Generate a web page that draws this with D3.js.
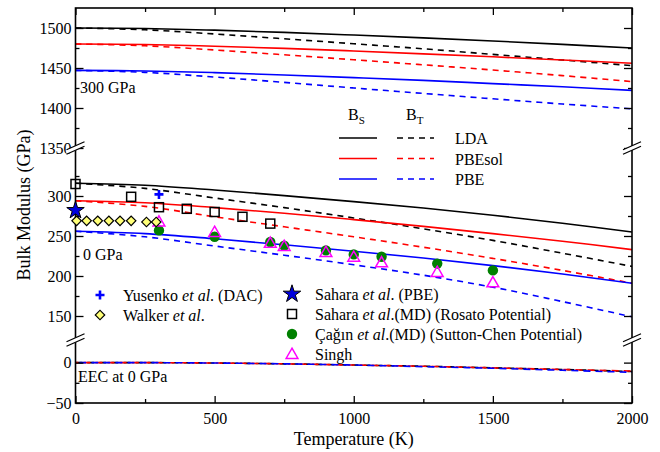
<!DOCTYPE html>
<html>
<head>
<meta charset="utf-8">
<title>Bulk modulus vs temperature</title>
<script src="https://cdnjs.cloudflare.com/ajax/libs/d3/7.8.5/d3.min.js"></script>
<style>
    body { margin: 0; background: #fff; }
    svg text { font-family: "Liberation Serif", "Times New Roman", serif; fill: #000; }
    .axis path { display: none; }
    .axis line { stroke: #000; stroke-width: 1.3; }
</style>
</head>
<body>
<svg id="chart" width="660" height="452"></svg>
<script>
// temperature grid (K) for the calculated curves
var temps = [0, 250, 500, 750, 1000, 1250, 1500, 1750, 2000];

// 300 GPa (top panel)
var ldaBs300    = [1500, 1499.3, 1497.3, 1494.5, 1491.2, 1487.7, 1483.8, 1479.5, 1475];
var ldaBt300    = [1500, 1497.8, 1492.5, 1486.5, 1480.3, 1474, 1467, 1460, 1453];
var pbesolBs300 = [1480, 1479.3, 1477.2, 1474.5, 1471.3, 1467.7, 1464, 1460, 1456];
var pbesolBt300 = [1480, 1477.8, 1472.5, 1466.5, 1460.3, 1454, 1447.5, 1440.5, 1433];
var pbeBs300    = [1447, 1446.3, 1444.2, 1441.3, 1438, 1434.5, 1430.5, 1426.5, 1422];
var pbeBt300    = [1447, 1444.5, 1438.7, 1432, 1425, 1418.2, 1411.5, 1405, 1399];

// 0 GPa (middle panel)
var ldaBs0    = [316, 313.5, 307.5, 300.5, 293, 285, 276, 266, 255];
var ldaBt0    = [316, 309.5, 297.5, 285.5, 272.5, 259, 244.5, 228.5, 212];
var pbesolBs0 = [294, 291.5, 285.5, 278.5, 270.5, 262, 253, 243.5, 233];
var pbesolBt0 = [294, 287, 274, 261.5, 249, 236, 222, 207, 191];
var pbeBs0    = [256, 253, 246.5, 239, 231, 222.5, 213, 202.5, 191];
var pbeBt0    = [256, 249, 237.5, 226, 214, 201, 186, 168, 149];

// EEC at 0 GPa (bottom panel)
var eecLda    = [0, 0, -0.5, -1.5, -3, -4.5, -6.5, -8.5, -11];
var eecPbesol = [0, 0, -0.5, -1.5, -3, -4.5, -6.5, -8.5, -10.5];
var eecPbe    = [0, 0, -0.5, -1.5, -3, -5, -7, -9.5, -12];

// reference data
var yusenkoT = [300], yusenkoB = [302];
var walkerT = [4, 40, 80, 120, 160, 200, 255, 290];
var walkerB = [269, 269, 269, 269, 269, 269, 267.5, 267.5];
var saharaPbeT = [0], saharaPbeB = [282];
var saharaMdT = [0, 200, 300, 400, 500, 600, 700];
var saharaMdB = [315, 299, 286, 284, 280, 274, 265.5];
var caginT = [300, 500, 700, 750, 900, 1000, 1100, 1300, 1500];
var caginB = [257, 249, 242.5, 238, 232, 227, 224, 215.5, 207];
var singhT = [300, 500, 700, 750, 900, 1000, 1100, 1300, 1500];
var singhB = [268, 255, 241.5, 237.5, 230, 224, 217, 205, 192];

var xTicks = [0, 500, 1000, 1500, 2000];
var xMinor = [250, 750, 1250, 1750];

var svg = d3.select("#chart");
var x0 = 75.5, x1 = 632;
var x = d3.scaleLinear().domain([0, 2000]).range([x0, x1]);

// three panels sharing the same px per GPa
var panels = [
    { id: "top", y: d3.scaleLinear().domain([1350, 1525]).range([148, 8]),
      major: [1350, 1400, 1450, 1500], minor: [1375, 1425, 1475] },
    { id: "mid", y: d3.scaleLinear().domain([120, 360]).range([340, 148]),
      major: [150, 200, 250, 300], minor: [175, 225, 275, 325] },
    { id: "bot", y: d3.scaleLinear().domain([-50, 28]).range([403, 340]),
      major: [-50, 0], minor: [-25] }
];
var yMid = panels[1].y;

panels.forEach(function(p) {
    svg.append("clipPath").attr("id", "clip-" + p.id)
        .append("rect")
        .attr("x", x0).attr("y", p.y.range()[1])
        .attr("width", x1 - x0).attr("height", p.y.range()[0] - p.y.range()[1]);
});

function drawCurve(panel, vals, color, dashed, offset) {
    var line = d3.line()
        .x(function(d, i) { return x(temps[i]); })
        .y(function(d) { return panel.y(d); })
        .curve(d3.curveCatmullRom.alpha(0.5));
    svg.append("path")
        .datum(vals)
        .attr("clip-path", "url(#clip-" + panel.id + ")")
        .attr("fill", "none")
        .attr("stroke", color)
        .attr("stroke-width", 1.6)
        .attr("stroke-dasharray", dashed ? dashed : null)
        .attr("stroke-dashoffset", offset || 0)
        .attr("d", line);
}

var black = "#000", red = "#ff0000", blue = "#0000ff";
drawCurve(panels[0], ldaBs300, black);
drawCurve(panels[0], ldaBt300, black, "6,5");
drawCurve(panels[0], pbesolBs300, red);
drawCurve(panels[0], pbesolBt300, red, "6,5");
drawCurve(panels[0], pbeBs300, blue);
drawCurve(panels[0], pbeBt300, blue, "6,5");

drawCurve(panels[1], ldaBs0, black);
drawCurve(panels[1], ldaBt0, black, "6,5");
drawCurve(panels[1], pbesolBs0, red);
drawCurve(panels[1], pbesolBt0, red, "6,5");
drawCurve(panels[1], pbeBs0, blue);
drawCurve(panels[1], pbeBt0, blue, "6,5");

drawCurve(panels[2], eecLda, black, "7,5", 0);
drawCurve(panels[2], eecPbesol, red, "7,5", 4);
drawCurve(panels[2], eecPbe, blue, "7,5", 8);

// frame
svg.append("rect")
    .attr("x", x0).attr("y", 8)
    .attr("width", x1 - x0).attr("height", 403 - 8)
    .attr("fill", "none").attr("stroke", "#000").attr("stroke-width", 1.6);

// axes, ticks pointing inwards
function styleAxis(g) {
    g.attr("font-family", null).attr("font-size", null);
    g.selectAll("text").style("font-size", "16px");
}
svg.append("g").attr("class", "axis")
    .attr("transform", "translate(0,403)")
    .call(d3.axisBottom(x).tickValues(xTicks).tickSize(-7).tickPadding(10).tickFormat(d3.format("d")))
    .call(styleAxis);
svg.append("g").attr("class", "axis")
    .attr("transform", "translate(0,403)")
    .call(d3.axisBottom(x).tickValues(xMinor).tickSize(-4).tickFormat(""));
svg.append("g").attr("class", "axis")
    .attr("transform", "translate(0,8)")
    .call(d3.axisTop(x).tickValues(xTicks).tickSize(-7).tickFormat(""));
svg.append("g").attr("class", "axis")
    .attr("transform", "translate(0,8)")
    .call(d3.axisTop(x).tickValues(xMinor).tickSize(-4).tickFormat(""));

panels.forEach(function(p) {
    svg.append("g").attr("class", "axis")
        .attr("transform", "translate(" + x0 + ",0)")
        .call(d3.axisLeft(p.y).tickValues(p.major).tickSize(-8).tickPadding(4).tickFormat(d3.format("d")))
        .call(styleAxis);
    svg.append("g").attr("class", "axis")
        .attr("transform", "translate(" + x0 + ",0)")
        .call(d3.axisLeft(p.y).tickValues(p.minor).tickSize(-4).tickFormat(""));
    svg.append("g").attr("class", "axis")
        .attr("transform", "translate(" + x1 + ",0)")
        .call(d3.axisRight(p.y).tickValues(p.major).tickSize(-8).tickFormat(""));
    svg.append("g").attr("class", "axis")
        .attr("transform", "translate(" + x1 + ",0)")
        .call(d3.axisRight(p.y).tickValues(p.minor).tickSize(-4).tickFormat(""));
});

// axis breaks
[148, 340].forEach(function(by) {
    [x0, x1].forEach(function(bx) {
        var g = svg.append("g");
        g.append("polygon")
            .attr("points", [[bx - 9, by + 6.2], [bx + 9, by - 1.8], [bx + 9, by - 6.2], [bx - 9, by + 1.8]].join(" "))
            .attr("fill", "#fff");
        [-2.2, 2.2].forEach(function(d) {
            g.append("line")
                .attr("x1", bx - 9).attr("y1", by + 4 + d)
                .attr("x2", bx + 9).attr("y2", by - 4 + d)
                .attr("stroke", "#000").attr("stroke-width", 1.2);
        });
    });
});

// markers
var green = "#008000", magenta = "#ff00ff", yellow = "#ffff77";
function plus(g, cx, cy) {
    g.append("path").attr("d", "M" + (cx - 4.5) + "," + cy + "H" + (cx + 4.5) + "M" + cx + "," + (cy - 4.5) + "V" + (cy + 4.5))
        .attr("stroke", blue).attr("stroke-width", 2.6).attr("fill", "none");
}
function diamond(g, cx, cy) {
    g.append("path").attr("d", d3.symbol().type(d3.symbolSquare).size(45)())
        .attr("transform", "translate(" + cx + "," + cy + ") rotate(45)")
        .attr("fill", yellow).attr("stroke", "#000").attr("stroke-width", 1.2);
}
function star(g, cx, cy) {
    g.append("path").attr("d", d3.symbol().type(d3.symbolStar).size(95)())
        .attr("transform", "translate(" + cx + "," + cy + ")")
        .attr("fill", "#0000dd").attr("stroke", "#000").attr("stroke-width", 1);
}
function square(g, cx, cy) {
    g.append("rect").attr("x", cx - 4.5).attr("y", cy - 4.5).attr("width", 9).attr("height", 9)
        .attr("fill", "none").attr("stroke", "#000").attr("stroke-width", 1.5);
}
function circle(g, cx, cy) {
    g.append("circle").attr("cx", cx).attr("cy", cy).attr("r", 5.2).attr("fill", green);
}
function triangle(g, cx, cy) {
    g.append("path").attr("d", d3.symbol().type(d3.symbolTriangle).size(60)())
        .attr("transform", "translate(" + cx + "," + (cy + 1) + ")")
        .attr("fill", "none").attr("stroke", magenta).attr("stroke-width", 1.5);
}

var marks = svg.append("g");
caginT.forEach(function(t, i) { circle(marks, x(t), yMid(caginB[i])); });
singhT.forEach(function(t, i) { triangle(marks, x(t), yMid(singhB[i])); });
saharaMdT.forEach(function(t, i) { square(marks, x(t), yMid(saharaMdB[i])); });
walkerT.forEach(function(t, i) { diamond(marks, x(t), yMid(walkerB[i])); });
yusenkoT.forEach(function(t, i) { plus(marks, x(t), yMid(yusenkoB[i])); });
saharaPbeT.forEach(function(t, i) { star(marks, x(t), yMid(saharaPbeB[i])); });

// line legend
var lg = svg.append("g").style("font-size", "16px");
var bs = lg.append("text").attr("x", 348).attr("y", 120);
bs.append("tspan").text("B");
bs.append("tspan").attr("dy", 4).style("font-size", "11px").text("S");
var bt = lg.append("text").attr("x", 406).attr("y", 120);
bt.append("tspan").text("B");
bt.append("tspan").attr("dy", 4).style("font-size", "11px").text("T");
[["LDA", black, 138], ["PBEsol", red, 158.5], ["PBE", blue, 179]].forEach(function(r) {
    lg.append("line").attr("x1", 339).attr("x2", 377).attr("y1", r[2]).attr("y2", r[2])
        .attr("stroke", r[1]).attr("stroke-width", 1.6);
    lg.append("line").attr("x1", 397).attr("x2", 434).attr("y1", r[2]).attr("y2", r[2])
        .attr("stroke", r[1]).attr("stroke-width", 1.6).attr("stroke-dasharray", "6,5");
    lg.append("text").attr("x", 455).attr("y", r[2] + 6).text(r[0]);
});

// marker legend
var ml = svg.append("g").style("font-size", "16px");
function entry(draw, mx, ty, parts) {
    draw(ml, mx, ty);
    var t = ml.append("text").attr("x", mx + 23).attr("y", ty + 5.5);
    parts.forEach(function(p) {
        t.append("tspan").style("font-style", p[1] ? "italic" : null).text(p[0]);
    });
}
entry(plus, 100, 295, [["Yusenko "], ["et al", 1], [". (DAC)"]]);
entry(diamond, 100, 315, [["Walker "], ["et al", 1], ["."]]);
entry(star, 292, 294, [["Sahara "], ["et al", 1], [". (PBE)"]]);
entry(square, 292, 314, [["Sahara "], ["et al", 1], [".(MD) (Rosato Potential)"]]);
entry(circle, 292, 334, [["\u00c7a\u011f\u0131n "], ["et al", 1], [".(MD) (Sutton-Chen Potential)"]]);
entry(triangle, 292, 354, [["Singh"]]);

// panel annotations
var ann = svg.append("g").style("font-size", "16px");
ann.append("text").attr("x", 80).attr("y", 93).text("300 GPa");
ann.append("text").attr("x", 83).attr("y", 260).text("0 GPa");
ann.append("text").attr("x", 78).attr("y", 382).text("EEC at 0 GPa");

// axis titles
svg.append("text").attr("x", (x0 + x1) / 2).attr("y", 445)
    .style("font-size", "18px")
    .attr("text-anchor", "middle").text("Temperature (K)");
svg.append("text").attr("transform", "translate(30,205) rotate(-90)")
    .style("font-size", "18px")
    .attr("text-anchor", "middle").text("Bulk Modulus (GPa)");
</script>
</body>
</html>
